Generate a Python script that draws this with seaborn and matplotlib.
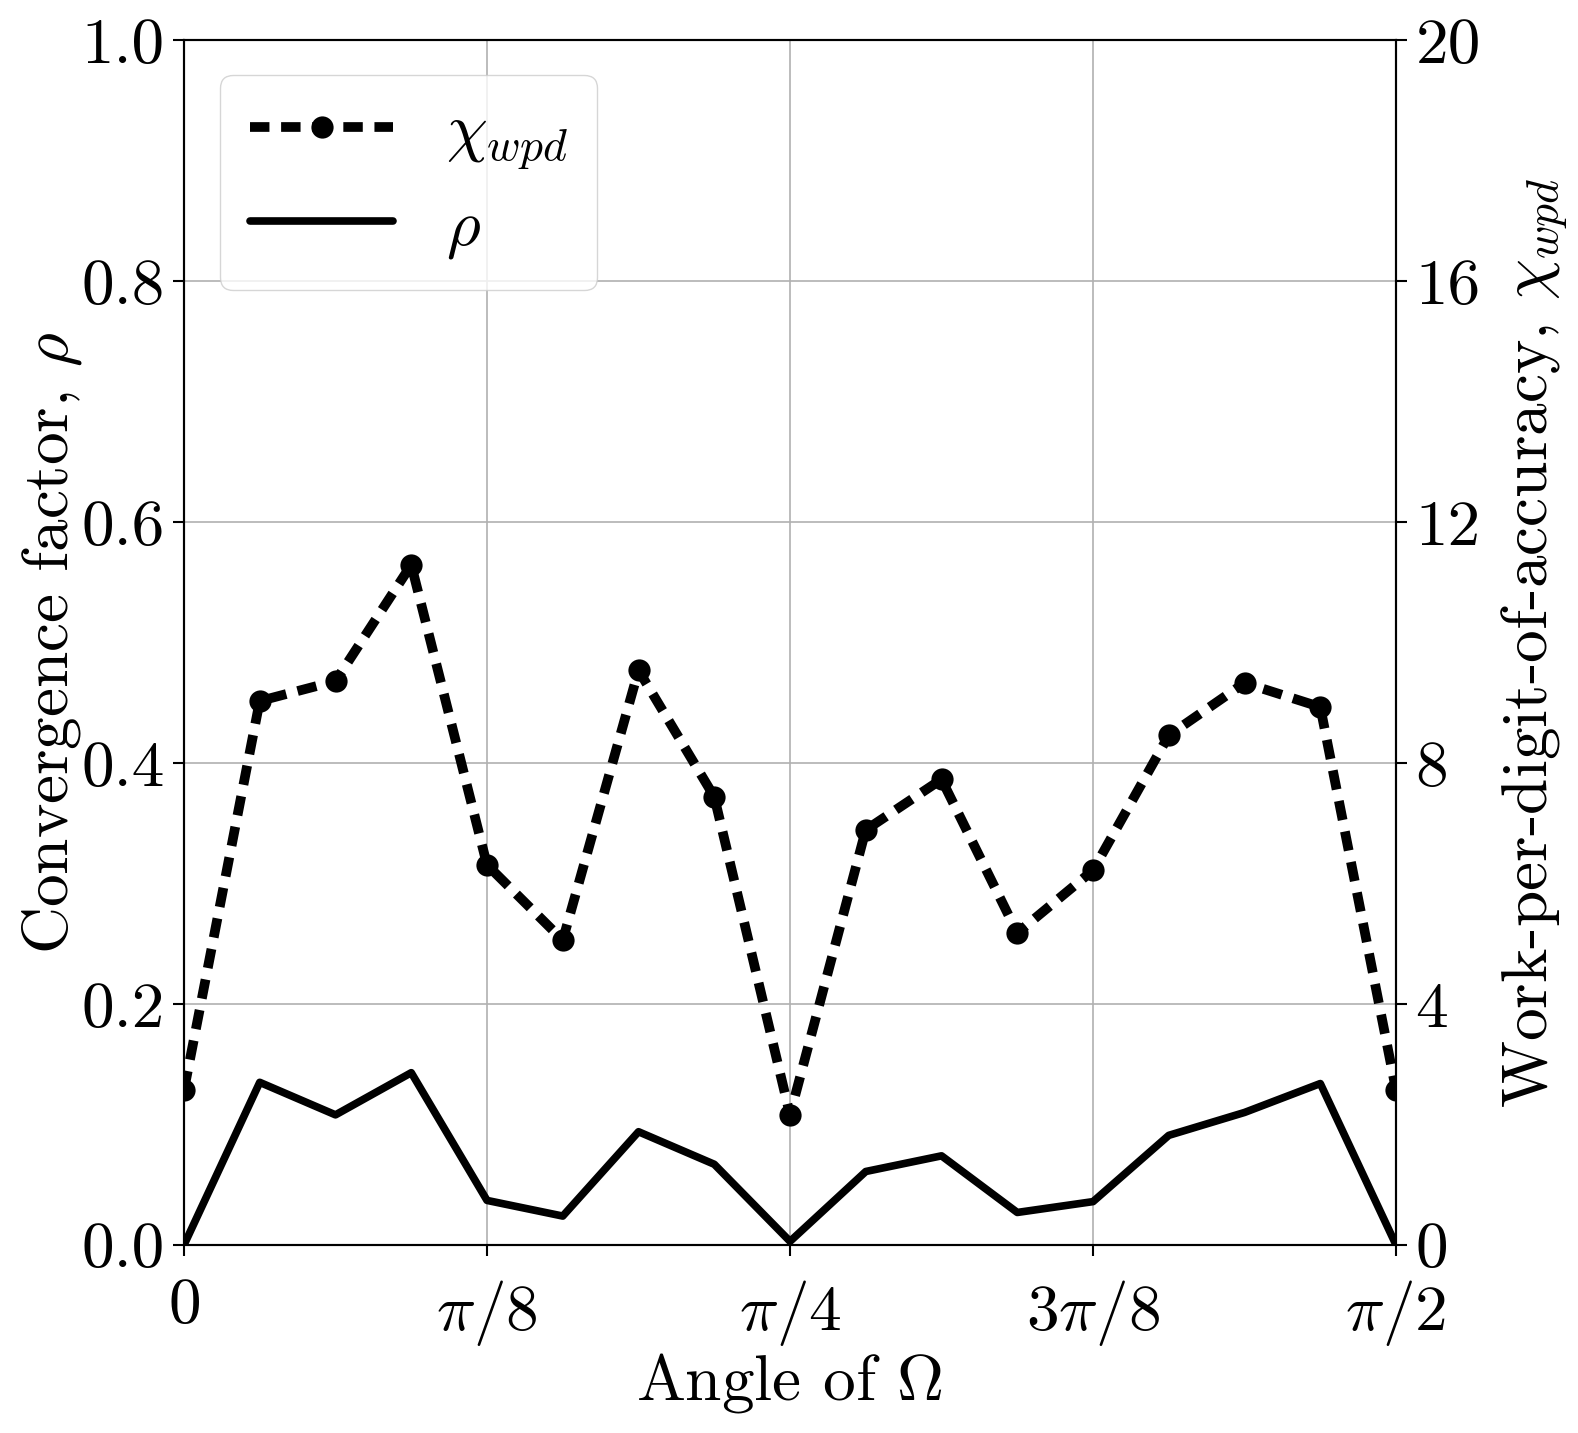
import numpy as np
import pandas as pd
import matplotlib
matplotlib.use("Agg")
import matplotlib.pyplot as plt
import seaborn as sns

# angle index: 17 samples from 0 to pi/2 (step pi/32)
angle = np.linspace(0, np.pi / 2, 17)

# work-per-digit-of-accuracy (right axis)
chi_wpd = [2.57, 9.03, 9.36, 11.29, 6.31, 5.06, 9.54, 7.44, 2.16,
           6.89, 7.73, 5.18, 6.22, 8.46, 9.33, 8.93, 2.57]

# convergence factor (left axis)
rho = [0.0, 0.135, 0.108, 0.143, 0.037, 0.024, 0.094, 0.067, 0.003,
       0.061, 0.074, 0.027, 0.036, 0.091, 0.110, 0.134, 0.0]

xtick_vals = [0, np.pi / 8, np.pi / 4, 3 * np.pi / 8, np.pi / 2]
xtick_labels = [r"$0$", r"$\pi/8$", r"$\pi/4$", r"$3\pi/8$", r"$\pi/2$"]
left_ticks = [0.0, 0.2, 0.4, 0.6, 0.8, 1.0]
right_ticks = [0, 4, 8, 12, 16, 20]

df = pd.DataFrame({"angle": angle, "chi": chi_wpd, "rho": rho})

sns.set_theme(style="white")
plt.rcParams["font.family"] = ["cmr10", "DejaVu Serif"]
plt.rcParams["mathtext.fontset"] = "cm"
plt.rcParams["axes.formatter.use_mathtext"] = True
plt.rcParams["axes.unicode_minus"] = False
plt.rcParams["text.color"] = "black"
plt.rcParams["axes.labelcolor"] = "black"

fs = 47

fig = plt.figure(figsize=(15.78, 14.33), dpi=100)
ax = fig.add_subplot(111)
fig.subplots_adjust(left=0.1166, right=0.8847, top=0.972, bottom=0.1312)
ax2 = ax.twinx()

sns.lineplot(x="angle", y="rho", data=df, ax=ax, color="black", lw=5.5)
sns.lineplot(x="angle", y="chi", data=df, ax=ax2, color="black", lw=7,
             linestyle=(0, (2.0, 1.2)), marker="o", markersize=16,
             markeredgewidth=0)

ax.set_xlim(0, np.pi / 2)
ax.set_ylim(0, 1.0)
ax2.set_ylim(0, 20)

ax.set_xticks(xtick_vals)
ax.set_xticklabels(xtick_labels)
ax.set_yticks(left_ticks)
ax.set_yticklabels([f"{v:.1f}" for v in left_ticks])
ax2.set_yticks(right_ticks)
ax2.set_yticklabels([str(v) for v in right_ticks])

ax.grid(True, color="#b0b0b0", lw=1.2)
ax2.grid(False)

for a in (ax, ax2):
    a.tick_params(labelsize=fs, direction="out", length=8, width=1.5,
                  colors="black", pad=6)
    for sp in a.spines.values():
        sp.set_color("black")
        sp.set_linewidth(1.5)
ax.tick_params(axis="both", left=True, bottom=True)
ax.tick_params(axis="x", pad=16)
ax2.tick_params(axis="y", right=True)

ax.set_xlabel(r"Angle of $\Omega$", fontsize=fs, labelpad=2)
ax.set_ylabel(r"Convergence factor, $\rho$", fontsize=fs, labelpad=-2)
ax2.set_ylabel(r"Work-per-digit-of-accuracy, $\chi_{wpd}$", fontsize=fs,
               labelpad=14)

h_chi = ax2.get_lines()[0]
h_rho = ax.get_lines()[0]
ax2.legend([h_chi, h_rho], [r"$\chi_{wpd}$", r"$\rho$"], loc="upper left",
           fontsize=fs, handlelength=2.2, borderpad=0.45,
           labelspacing=0.4, handletextpad=0.8, framealpha=0.8,
           edgecolor="#cccccc", borderaxespad=0,
           bbox_to_anchor=(0.03, 0.971))

fig.savefig("out.png", dpi=100)
